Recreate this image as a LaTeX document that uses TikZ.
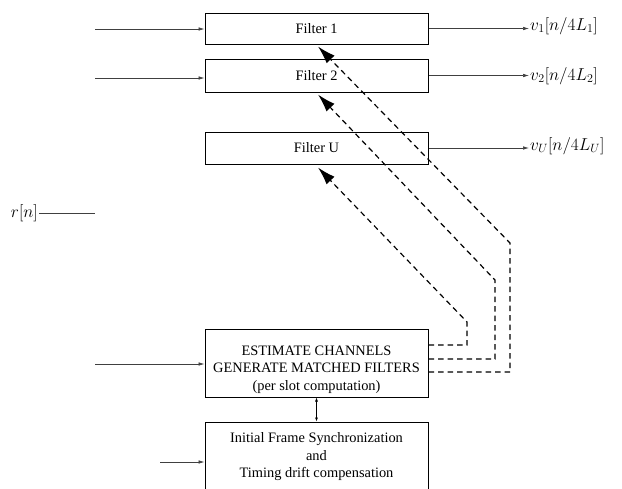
\documentclass[tikz,border=0pt]{standalone}
\usepackage[no-math]{fontspec}
\setmainfont{Liberation Serif}
\usetikzlibrary{arrows.meta}

\begin{document}
\begin{tikzpicture}[x=1pt,y=-1pt,
  box/.style={draw, line width=1pt, minimum width=223pt, inner sep=0pt,
    font=\fontsize{14.4}{17.5}\selectfont},
  sig/.style={line width=0.6pt, black!75, -{Latex[length=6pt,width=3.5pt]}},
  fb/.style={line width=1.2pt, dash pattern=on 5.5pt off 4pt,
    -{Latex[length=18pt,width=11pt]}},
  lbl/.style={inner sep=1pt, font=\fontsize{17}{19}\selectfont}]
\useasboundingbox (0,0) rectangle (622,488);
% Filters
\node[box, minimum height=31pt] (f1) at (316.5,28.5) {Filter 1};
\node[box, minimum height=33pt] (f2) at (316.5,75.5) {Filter 2};
\node[box, minimum height=32pt] (fu) at (316.5,148) {Filter U};
% Channel estimation and synchronization
\node[box, minimum height=68pt] (est) at (316.5,363) {};
\node[align=center, font=\fontsize{14.4}{17.5}\selectfont] (esttxt) at (316.5,369.5)
  {ESTIMATE CHANNELS\\GENERATE MATCHED FILTERS\\(per slot computation)};
\node[box, minimum height=70pt, align=center] (sync) at (316.5,457)
  {Initial Frame Synchronization\\and\\Timing drift compensation};
\draw[line width=0.6pt, {Latex[length=4pt,width=3pt]}-{Latex[length=4pt,width=3pt]}]
  (est.south) -- (sync.north);
% Input signal
\node[lbl, anchor=east] (r) at (39,213) {$r[n]$};
\coordinate (bus) at (95,213);
\draw[line width=0.6pt, black!75] (r.east) -- (bus);
\coordinate (in1) at (95,29);
\coordinate (in2) at (95,78);
\coordinate (in3) at (95,364);
\coordinate (in4) at (160,462);
\draw[sig] (in1) -- (in1 -| f1.west);
\draw[sig] (in2) -- (in2 -| f2.west);
\draw[sig] (in3) -- (in3 -| est.west);
\draw[sig] (in4) -- (in4 -| sync.west);
% Outputs
\node[lbl, anchor=west] (v1) at (529,26) {$v_1[n/4L_1]$};
\node[lbl, anchor=west] (v2) at (529,76) {$v_2[n/4L_2]$};
\node[lbl, anchor=west] (vu) at (529,146) {$v_U[n/4L_U]$};
\draw[sig] (f1.east) -- (f1.east -| v1.west);
\draw[sig] (f2.east) -- (f2.east -| v2.west);
\draw[sig] (fu.east) -- (fu.east -| vu.west);
% Matched filter coefficients
\coordinate (ca) at (467,322);
\coordinate (cb) at (495,280);
\coordinate (cc) at (510,243);
\draw[fb] ([yshift=18pt]est.east) -| (ca) -- ([shift={(1.5,3)}]fu.south);
\draw[fb] ([yshift=4pt]est.east) -| (cb) -- ([shift={(1.5,2)}]f2.south);
\draw[fb] ([yshift=-9pt]est.east) -| (cc) -- ([shift={(1.5,2)}]f1.south);
\end{tikzpicture}
\end{document}
